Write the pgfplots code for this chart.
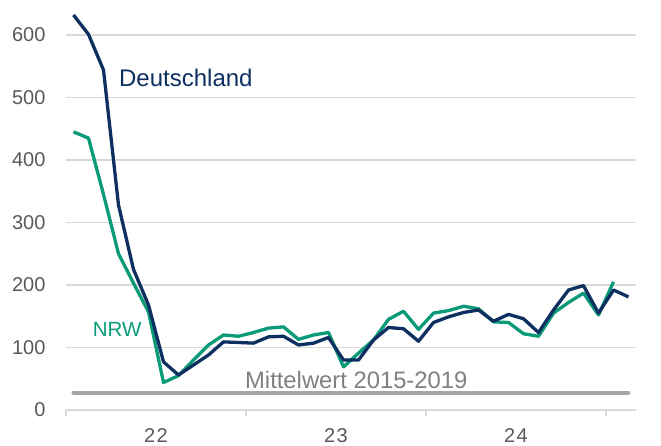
\documentclass[border=0pt]{standalone}
\usepackage{fontspec}
\setmainfont{Liberation Sans}
\usepackage{xcolor}
\usepackage{pgfplots}
\pgfplotsset{compat=1.18}
\definecolor{navy}{HTML}{0D3060}
\definecolor{nrw}{HTML}{0A9A78}
\definecolor{meanline}{HTML}{A6A6A6}
\definecolor{gridc}{HTML}{D9D9D9}
\definecolor{ticklab}{HTML}{595959}
\definecolor{meantext}{HTML}{808080}

% monthly values, month 0 = Jan 2022
\pgfplotstableread{
m v
0 632
1 601
2 544
3 328
4 225
5 168
6 77
7 56
8 72
9 88
10 109
11 108
12 107
13 117
14 118
15 104
16 107
17 116
18 80
19 80
20 112
21 132
22 130
23 110
24 140
25 149
26 156
27 160
28 142
29 153
30 146
31 124
32 160
33 192
34 199
35 155
36 192
37 181
}\deutschland
\pgfplotstableread{
m v
0 445
1 435
2 345
3 250
4 203
5 157
6 44
7 55
8 80
9 104
10 120
11 118
12 124
13 131
14 133
15 113
16 120
17 124
18 69
19 91
20 112
21 145
22 158
23 129
24 155
25 159
26 166
27 162
28 141
29 140
30 122
31 118
32 155
33 172
34 187
35 152
36 205
}\nrw

\begin{document}
\begin{tikzpicture}
\begin{axis}[
  scale only axis,
  width=570bp, height=410bp,
  xmin=-0.5, xmax=37.5,
  ymin=0, ymax=656,
  axis line style={draw=none},
  ytick={0,100,...,600},
  ytick style={draw=none},
  ymajorgrids=true,
  grid style={draw=gridc, line width=1.2bp},
  xtick={-0.5,11.5,23.5,35.5},
  xticklabels={},
  xtick pos=bottom,
  tick align=outside,
  x tick style={draw=gridc, line width=1.2bp},
  major tick length=6bp,
  extra x ticks={5.5,17.5,29.5},
  extra x tick labels={2\kern1.5bp 2,2\kern1.5bp 3,2\kern1.5bp 4},
  extra x tick style={major tick length=0pt, tick style={draw=none},
    xticklabel style={yshift=-15bp}},
  /pgf/number format/assume math mode=true,
  ticklabel style={font=\fontsize{20bp}{24bp}\selectfont, text=ticklab},
  yticklabel style={xshift=-11bp},
  clip=false,
]
\addplot[meanline, line width=4bp, line cap=round] coordinates {(0,28) (37,28)};
\addplot[nrw, line width=3.3bp, line join=round] table[x=m,y=v] {\nrw};
\addplot[navy, line width=3.3bp, line join=round] table[x=m,y=v] {\deutschland};
\node[anchor=base west, inner sep=0pt, text=navy, font=\fontsize{24bp}{28bp}\selectfont] at (axis cs:3.03,517) {Deutschland};
\node[anchor=base west, inner sep=0pt, text=nrw, font=\fontsize{20.5bp}{24bp}\selectfont] at (axis cs:1.28,117) {NRW};
\node[anchor=base west, inner sep=0pt, text=meantext, font=\fontsize{23.8bp}{27bp}\selectfont] at (axis cs:11.43,35) {Mittelwert 2015-2019};
\end{axis}
\pgfresetboundingbox
\path (-66bp,-36bp) rectangle (595bp,410bp);
\end{tikzpicture}
\end{document}
